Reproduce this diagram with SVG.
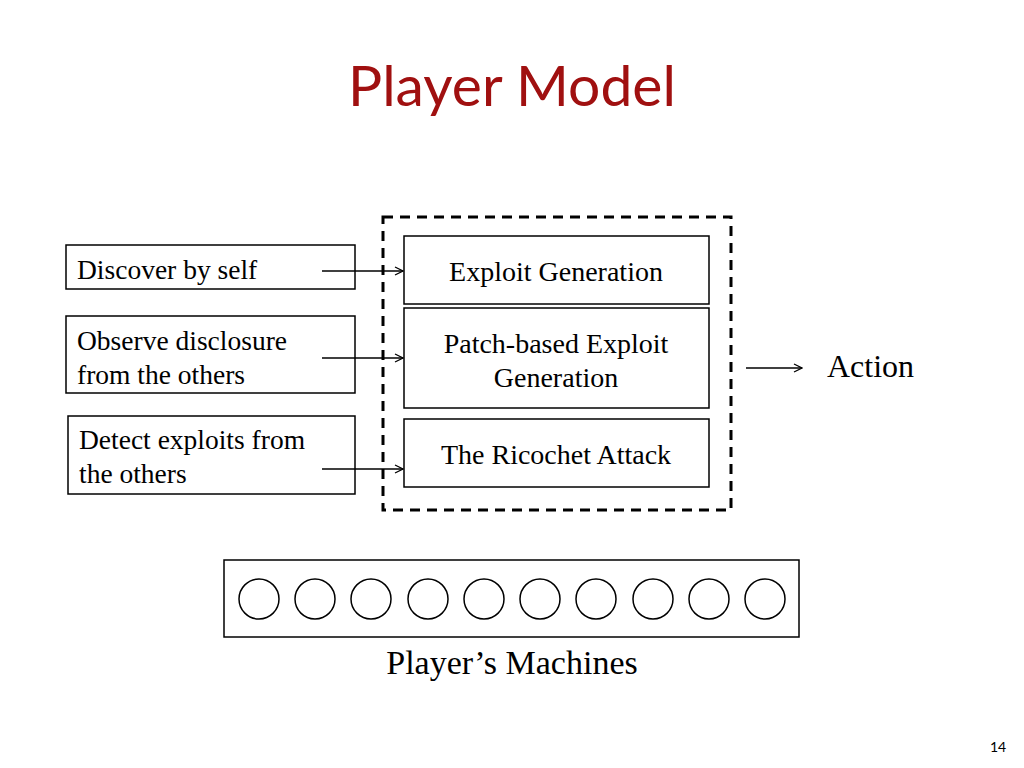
<svg xmlns="http://www.w3.org/2000/svg" width="1024" height="768" viewBox="0 0 1024 768">
<style>
.b{fill:#fff;stroke:#000;stroke-width:1.5}
.t{font-family:"Liberation Serif",serif;font-size:27.5px;fill:#000}
.c{font-family:"Liberation Serif",serif;font-size:28px;fill:#000;text-anchor:middle}
.a{stroke:#000;stroke-width:1.3;fill:none;marker-end:url(#ah)}
</style>
<defs><marker id="ah" markerWidth="10" markerHeight="10" refX="9" refY="5" orient="auto" markerUnits="userSpaceOnUse"><path d="M1,1 L9,5 L1,9" fill="none" stroke="#000" stroke-width="1.3"/></marker></defs>
<rect width="1024" height="768" fill="#fff"/>
<text x="512" y="106" text-anchor="middle" font-family="Lato,sans-serif" font-size="57" fill="#A01010">Player Model</text>
<g id="src1"><rect class="b" x="66" y="245" width="289" height="44"/><text class="t" x="77" y="279">Discover by self</text></g>
<g id="src2"><rect class="b" x="66" y="316" width="289" height="77"/><text class="t" x="77" y="350">Observe disclosure</text><text class="t" x="77" y="384">from the others</text></g>
<g id="src3"><rect class="b" x="68" y="416" width="287" height="78"/><text class="t" x="79" y="449">Detect exploits from</text><text class="t" x="79" y="483">the others</text></g>
<g id="group"><rect x="383" y="217" width="348" height="293" fill="none" stroke="#000" stroke-width="3" stroke-dasharray="10,7"/></g>
<g id="n1"><rect class="b" x="404" y="236" width="305" height="68"/><text class="c" x="556" y="281">Exploit Generation</text></g>
<g id="n2"><rect class="b" x="404" y="308" width="305" height="100"/><text class="c" x="556" y="353">Patch-based Exploit</text><text class="c" x="556" y="387">Generation</text></g>
<g id="n3"><rect class="b" x="404" y="419" width="305" height="68"/><text class="c" x="556" y="464">The Ricochet Attack</text></g>
<g id="action"><text x="827" y="377" font-family="Liberation Serif,serif" font-size="32">Action</text></g>
<g id="machines"><rect class="b" x="224" y="560" width="575" height="77"/>
<g fill="#fff" stroke="#000" stroke-width="1.5"><circle cx="259" cy="599" r="20"/><circle cx="315" cy="599" r="20"/><circle cx="371" cy="599" r="20"/><circle cx="428" cy="599" r="20"/><circle cx="484" cy="599" r="20"/><circle cx="540" cy="599" r="20"/><circle cx="596" cy="599" r="20"/><circle cx="653" cy="599" r="20"/><circle cx="709" cy="599" r="20"/><circle cx="765" cy="599" r="20"/></g>
<text x="512" y="674" text-anchor="middle" font-family="Liberation Serif,serif" font-size="34">Player’s Machines</text></g>
<g id="connectors">
<line class="a" x1="322" y1="271" x2="403" y2="271"/>
<line class="a" x1="322" y1="358" x2="403" y2="358"/>
<line class="a" x1="322" y1="469" x2="403" y2="469"/>
<line class="a" x1="746" y1="368" x2="802" y2="368"/>
</g>
<text x="998" y="752" text-anchor="middle" font-family="Lato,sans-serif" font-size="14">14</text>
</svg>
